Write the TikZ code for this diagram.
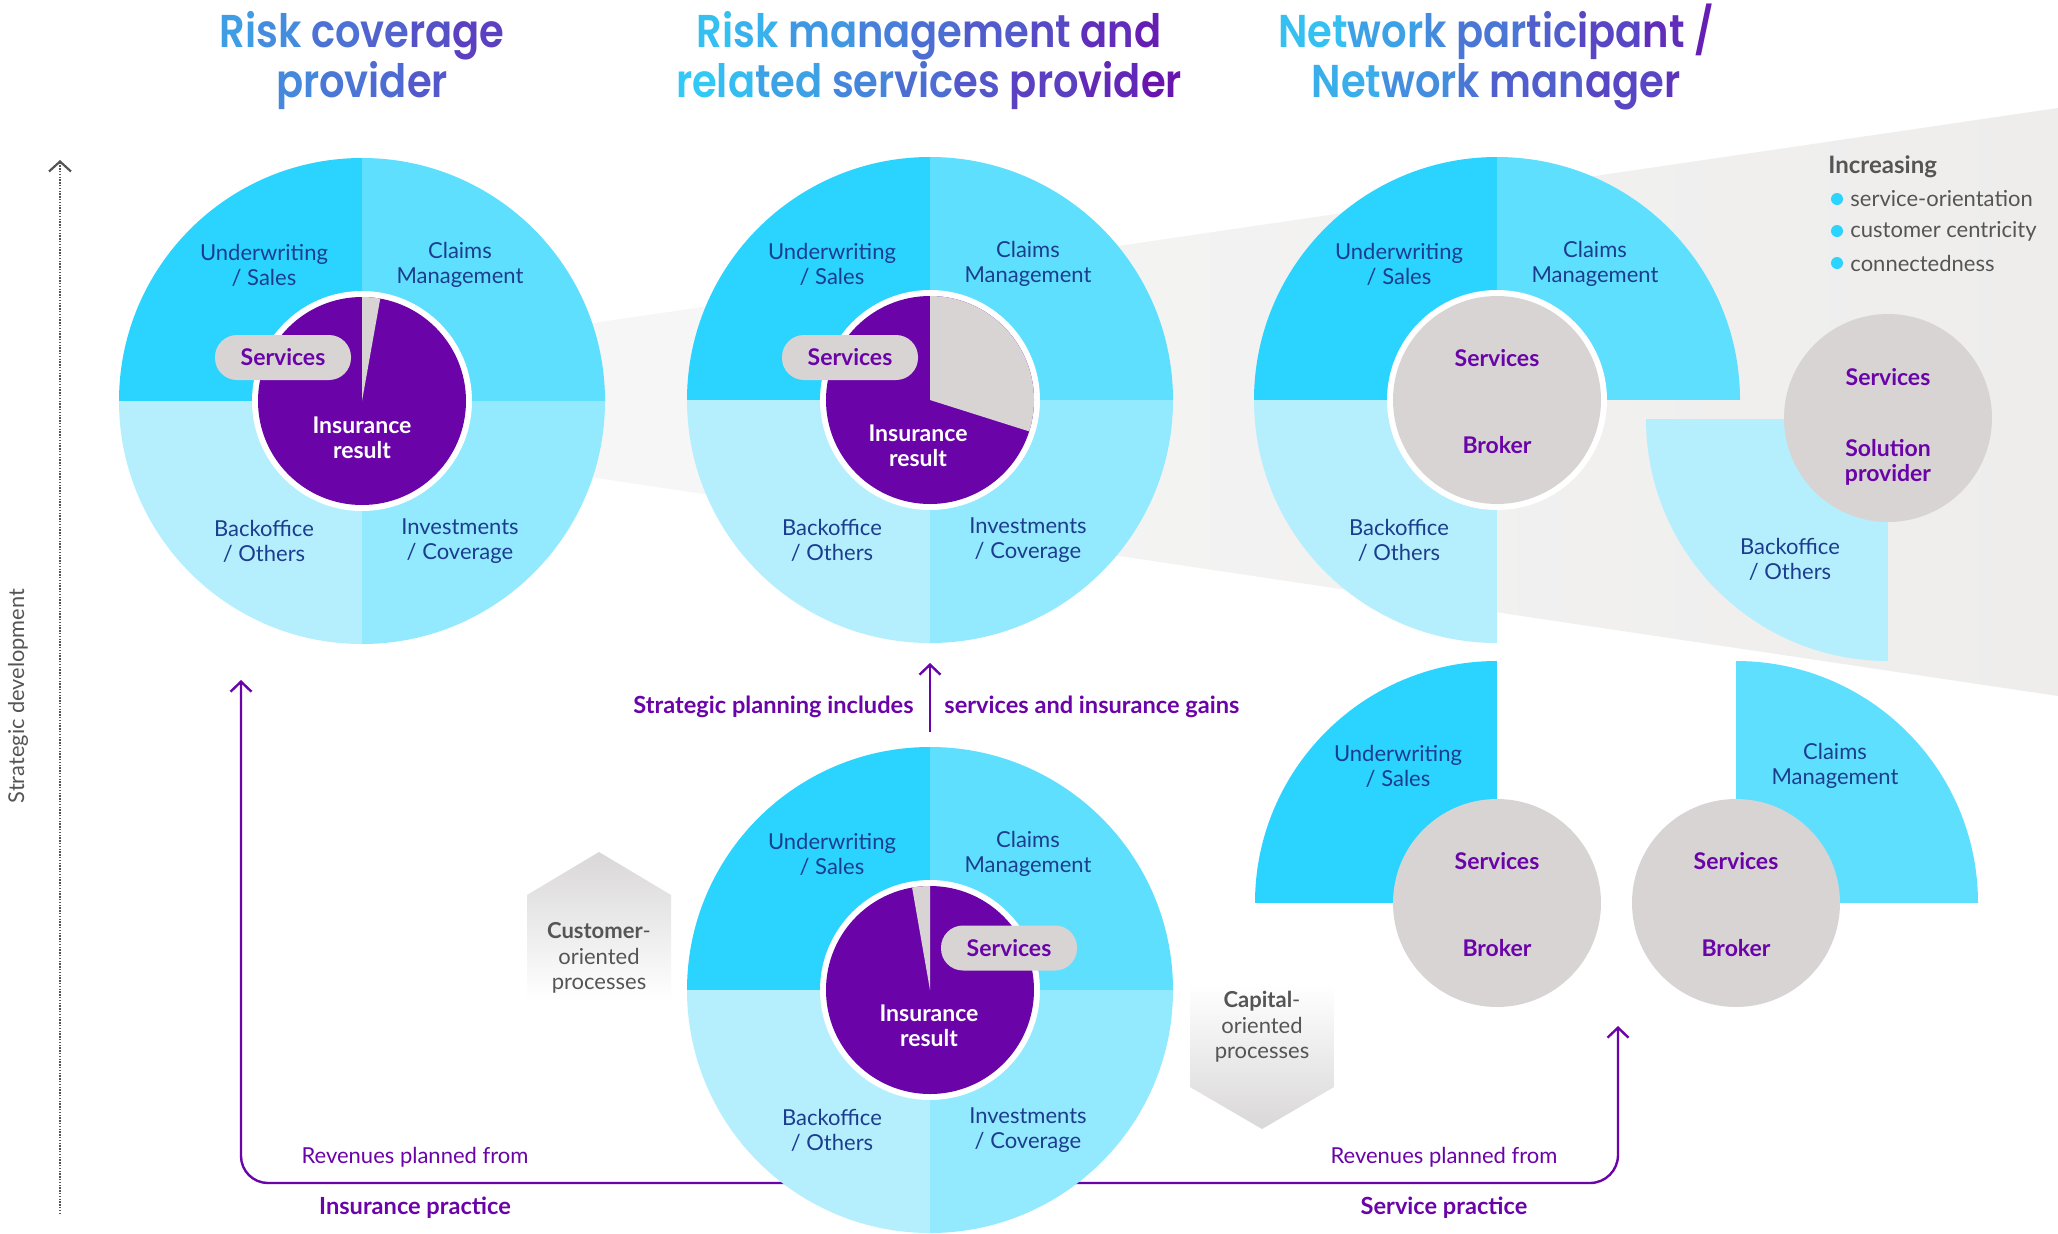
\documentclass[tikz,border=0pt]{standalone}
\usepackage{fontspec}
\setmainfont{Lato}
\newfontfamily\headfont{Poppins SemiBold}[FakeStretch=0.87]
\usetikzlibrary{arrows.meta}

\definecolor{segUW}{HTML}{2AD4FE}
\definecolor{segCM}{HTML}{5FDFFE}
\definecolor{segIV}{HTML}{93E9FE}
\definecolor{segBO}{HTML}{B5EFFE}
\definecolor{ink}{HTML}{6A04A8}
\definecolor{svcgray}{HTML}{D8D4D4}
\definecolor{navy}{HTML}{1C3D8E}
\definecolor{greytext}{HTML}{555555}
\definecolor{headcyan}{HTML}{2FD0F8}
\definecolor{headpurple}{HTML}{6A0DAD}
\definecolor{bandL}{HTML}{F8F8F8}
\definecolor{bandR}{HTML}{EEEDEC}
\definecolor{boxgray}{HTML}{D9D7D7}

% heading colour ramp: percentage of purple mixed into cyan
\newcommand\hc[2]{\textcolor{headpurple!#1!headcyan}{#2}}

\tikzset{
  seglabel/.style={align=center, text=navy, inner sep=0pt, font=\fontsize{11}{12.5}\selectfont},
  whitebold/.style={align=center, text=white, inner sep=0pt, font=\bfseries\fontsize{11.5}{12.5}\selectfont},
  purplebold/.style={align=center, text=ink, inner sep=0pt, font=\bfseries\fontsize{11.5}{12.5}\selectfont},
  svcpill/.style={purplebold, fill=svcgray, rounded corners=11pt, minimum width=68pt, minimum height=22.5pt},
  headline/.style={align=center, inner sep=0pt, font=\headfont\fontsize{23}{25}\selectfont},
  flowtext/.style={text=ink, inner sep=0pt, font=\fontsize{11}{13}\selectfont},
  flowbold/.style={flowtext, font=\bfseries\fontsize{11.8}{13}\selectfont},
  notetext/.style={text=greytext, inner sep=0pt, font=\fontsize{11}{12.75}\selectfont},
  revarrow/.style={draw=ink, line width=1.2pt, -{Straight Barb[length=5pt,width=10.5pt]}},
  wheel/.pic={
    \begin{scope}
      \clip (0,0) circle[radius=243];
      \fill[segUW] (0,0) rectangle (-250,-250);
      \fill[segCM] (0,0) rectangle (250,-250);
      \fill[segIV] (0,0) rectangle (250,250);
      \fill[segBO] (0,0) rectangle (-250,250);
    \end{scope}
    \fill[white] (0,0) circle[radius=110];
    \fill[ink] (0,0) circle[radius=104];
    \node[seglabel] (-uw) at (-98,-136) {Underwriting\\/ Sales};
    \node[seglabel] (-cm) at (98,-136) {Claims\\Management};
    \node[seglabel] (-bo) at (-98,140) {Backoffice\\/ Others};
    \node[seglabel] (-iv) at (98,140) {Investments\\/ Coverage};
  }
}

\begin{document}
\begin{tikzpicture}[x=0.5pt, y=-0.5pt]
\useasboundingbox (0,0) rectangle (2058,1233);
\fill[white] (0,0) rectangle (2058,1233);

% widening band behind the three stages
\shade[left color=bandL, right color=bandR] (362,357) -- (2058,108) -- (2058,696) -- (362,443) -- cycle;

% connector end points
\coordinate (axisfoot) at (60,1214);
\coordinate (axistip) at (60,160);
\coordinate (revbase) at (930,1183);
\coordinate (revleft) at (241,680);
\coordinate (revright) at (1618,1026);
\coordinate (planfoot) at (930,732);
\coordinate (plantip) at (930,663);

% revenue lines leave from behind the lower wheel
\draw[revarrow, rounded corners=13.5pt] (revbase) -| (revleft);
\draw[revarrow, rounded corners=14pt] (revbase) -| (revright);

% headings
\node[headline] (head1) at (362,61) {\hc{26}{Ri}\hc{35}{sk }\hc{48}{co}\hc{56}{ve}\hc{65}{ra}\hc{74}{ge}\\
  \hc{37}{pr}\hc{46}{ov}\hc{52}{id}\hc{61}{er}};
\node[headline] (head2) at (929,61) {\hc{8}{Ri}\hc{16}{sk }\hc{29}{ma}\hc{41}{na}\hc{50}{ge}\hc{60}{me}\hc{69}{nt }\hc{83}{an}\hc{92}{d}\\
  \hc{3}{re}\hc{10}{la}\hc{24}{ted }\hc{38}{ser}\hc{50}{vic}\hc{62}{es }\hc{74}{pro}\hc{86}{vid}\hc{96}{er}};
\node[headline] (head3) at (1496,57) {\hc{8}{Net}\hc{24}{wor}\hc{36}{k }\hc{46}{par}\hc{58}{tic}\hc{70}{ipa}\hc{83}{nt }\hc{91}{/}\\
  \hc{18}{Net}\hc{34}{wor}\hc{46}{k }\hc{58}{man}\hc{70}{age}\hc{80}{r}};

% the three full wheels
\pic (w1) at (362,401) {wheel};
\pic (w2) at (930,400) {wheel};
\pic (w3) at (930,990) {wheel};

% service shares of the insurance result
\begin{scope}
  \clip (362,401) circle[radius=104];
  \fill[svcgray] (362,401) -- (362,98) -- (416,98) -- cycle;
\end{scope}
\begin{scope}
  \clip (930,400) circle[radius=104];
  \fill[svcgray] (930,400) -- (930,100) -- (1230,100) -- (1224,493) -- cycle;
\end{scope}
\begin{scope}
  \clip (930,990) circle[radius=104];
  \fill[svcgray] (930,990) -- (930,687) -- (876,681) -- cycle;
\end{scope}

\node[svcpill] (w1-svc) at (283,357.5) {Services};
\node[svcpill] (w2-svc) at (850,357.5) {Services};
\node[svcpill] (w3-svc) at (1009,948) {Services};

\node[whitebold] (w1-res) at (362,437.5) {Insurance\\result};
\node[whitebold] (w2-res) at (918,445.5) {Insurance\\result};
\node[whitebold] (w3-res) at (929,1025.5) {Insurance\\result};

% network wheel with a broker core
\begin{scope}
  \clip (1497,400) circle[radius=243];
  \fill[segUW] (1497,400) rectangle (1247,150);
  \fill[segCM] (1497,400) rectangle (1747,150);
  \fill[segBO] (1497,400) rectangle (1247,650);
\end{scope}
\fill[white] (1497,400) circle[radius=110];
\fill[svcgray] (1497,400) circle[radius=104];
\node[seglabel] (nw-uw) at (1399,264) {Underwriting\\/ Sales};
\node[seglabel] (nw-cm) at (1595,264) {Claims\\Management};
\node[seglabel] (nw-bo) at (1399,540) {Backoffice\\/ Others};
\node[purplebold] (nw-svc) at (1497,358) {Services};
\node[purplebold] (nw-brk) at (1497,445) {Broker};

% solution provider with its back office
\begin{scope}
  \clip (1888,419) circle[radius=242];
  \fill[segBO] (1888,419) rectangle (1640,665);
\end{scope}
\fill[svcgray] (1888,418) circle[radius=104];
\node[seglabel] (sp-bo) at (1790,559) {Backoffice\\/ Others};
\node[purplebold] (sp-svc) at (1888,377) {Services};
\node[purplebold] (sp-sol) at (1888,462.5) {Solution\\provider};

% separated underwriting and claims units with brokers
\begin{scope}
  \clip (1497,903) circle[radius=242];
  \fill[segUW] (1497,903) rectangle (1250,658);
\end{scope}
\fill[svcgray] (1497,903) circle[radius=104];
\node[seglabel] (ba-uw) at (1398,766) {Underwriting\\/ Sales};
\node[purplebold] (ba-svc) at (1497,861) {Services};
\node[purplebold] (ba-brk) at (1497,948) {Broker};

\begin{scope}
  \clip (1736,903) circle[radius=242];
  \fill[segCM] (1736,903) rectangle (1985,658);
\end{scope}
\fill[svcgray] (1736,903) circle[radius=104];
\node[seglabel] (bb-cm) at (1835,766) {Claims\\Management};
\node[purplebold] (bb-svc) at (1736,861) {Services};
\node[purplebold] (bb-brk) at (1736,948) {Broker};

% process orientation tags
\shade[top color=boxgray, bottom color=white] (527,1000) -- (527,895) -- (599,852) -- (671,895) -- (671,1000) -- cycle;
\node[notetext, align=center] (custproc) at (599,958) {{\bfseries Customer}-\\oriented\\processes};
\shade[top color=white, bottom color=boxgray] (1190,985) -- (1190,1087) -- (1262,1129) -- (1334,1087) -- (1334,985) -- cycle;
\node[notetext, align=center] (capproc) at (1262,1027) {{\bfseries Capital}-\\oriented\\processes};

% strategic planning
\draw[revarrow] (planfoot) -- (plantip);
\node[flowbold, anchor=east] (planL) at (914,707) {Strategic planning includes};
\node[flowbold, anchor=west] (planR) at (944,707) {services and insurance gains};

% revenue captions
\node[flowtext] (revL) at (415,1157) {Revenues planned from};
\node[flowbold] (practL) at (415,1208) {Insurance practice};
\node[flowtext] (revR) at (1444,1157) {Revenues planned from};
\node[flowbold] (practR) at (1444,1208) {Service practice};

% development axis
\draw[draw=greytext, line width=1.1pt, dash pattern=on 0.7pt off 0.7pt, -{Straight Barb[length=5pt,width=11pt]}] (axisfoot) -- (axistip);
\node[notetext, rotate=90, font=\fontsize{10.9}{12}\selectfont] (axislabel) at (18,696) {Strategic development};

% legend
\node[notetext, anchor=west, font=\bfseries\fontsize{12}{13}\selectfont] (incr) at (1828,167) {Increasing};
\fill[segUW] (1837,199) circle[radius=6];
\fill[segUW] (1837,231) circle[radius=6];
\fill[segUW] (1837,263) circle[radius=6];
\node[notetext, anchor=west] (inc1) at (1850,199) {service-orientation};
\node[notetext, anchor=west] (inc2) at (1850,231) {customer centricity};
\node[notetext, anchor=west] (inc3) at (1850,263) {connectedness};
\end{tikzpicture}
\end{document}
